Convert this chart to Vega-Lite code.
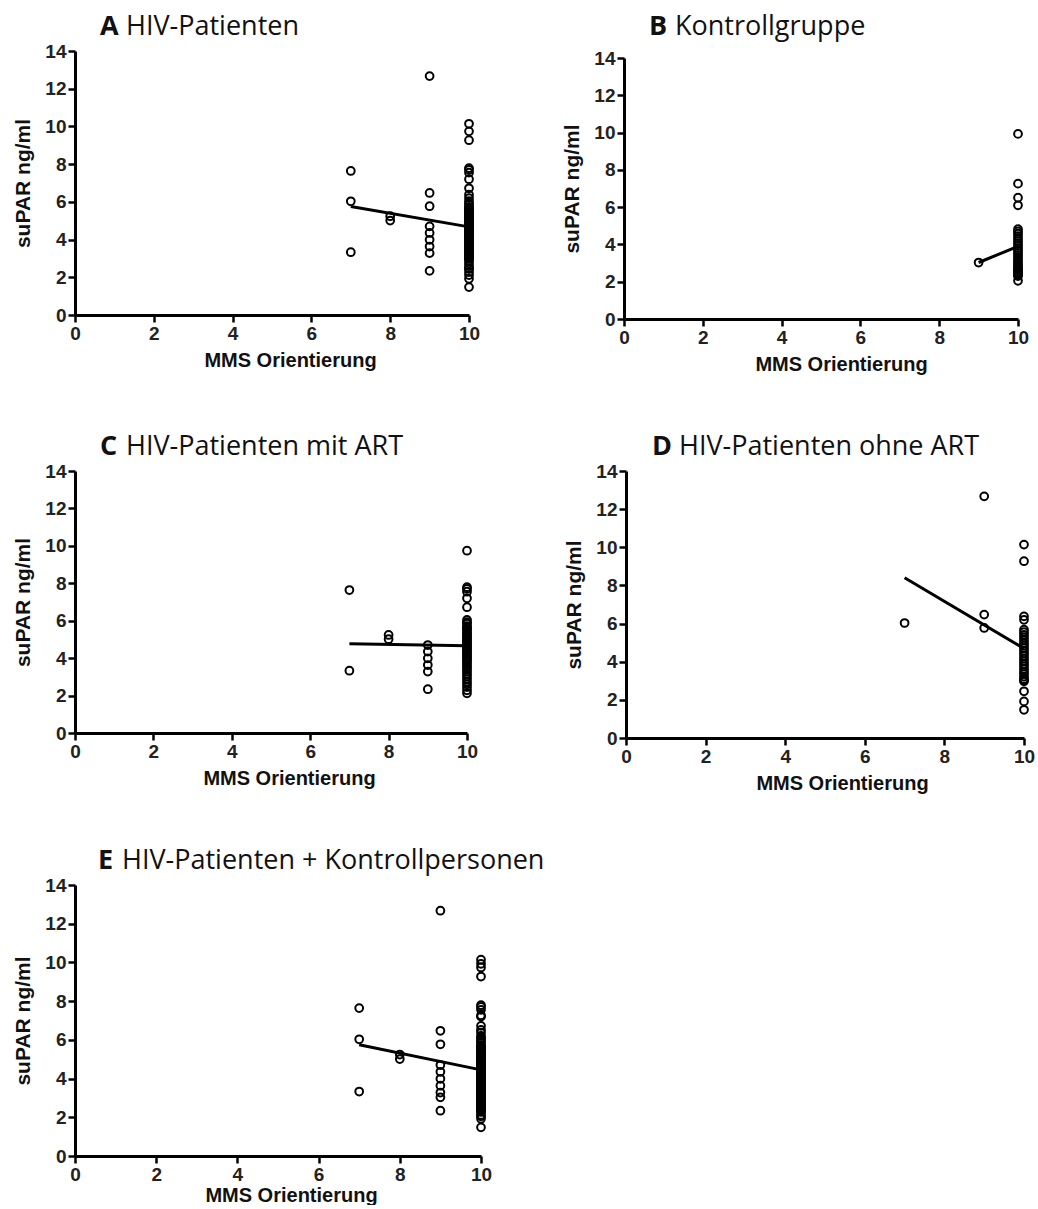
{
  "$schema": "https://vega.github.io/schema/vega-lite/v6.json",
  "padding": {"left": 12, "top": 13, "right": 5, "bottom": 0},
  "background": "#ffffff",
  "config": {
    "view": {"stroke": null},
    "font": "Liberation Sans",
    "axis": {
      "grid": false,
      "domainColor": "#000000",
      "domainWidth": 3,
      "tickColor": "#000000",
      "tickWidth": 2.5,
      "tickSize": 7,
      "labelFont": "Liberation Sans",
      "labelFontWeight": "bold",
      "labelFontSize": 19,
      "labelColor": "#222222",
      "labelPadding": 2,
      "labelOverlap": false,
      "titleFont": "Liberation Sans",
      "titleFontWeight": "bold",
      "titleColor": "#111111"
    },
    "axisX": {"titlePadding": 7, "titleFontSize": 20, "labelFlush": false},
    "axisY": {"titlePadding": 11, "titleFontSize": 21},
    "title": {
      "font": "Open Sans",
      "fontSize": 27,
      "fontWeight": "normal",
      "color": "#111111",
      "anchor": "start",
      "frame": "group"
    }
  },
  "datasets": {
    "supar": [
      {"mms": 7, "supar": 7.64, "gruppe": "HIV", "art": "mit"},
      {"mms": 7, "supar": 3.33, "gruppe": "HIV", "art": "mit"},
      {"mms": 8, "supar": 5.24, "gruppe": "HIV", "art": "mit"},
      {"mms": 8, "supar": 5.01, "gruppe": "HIV", "art": "mit"},
      {"mms": 9, "supar": 4.70, "gruppe": "HIV", "art": "mit"},
      {"mms": 9, "supar": 4.35, "gruppe": "HIV", "art": "mit"},
      {"mms": 9, "supar": 3.99, "gruppe": "HIV", "art": "mit"},
      {"mms": 9, "supar": 3.63, "gruppe": "HIV", "art": "mit"},
      {"mms": 9, "supar": 3.28, "gruppe": "HIV", "art": "mit"},
      {"mms": 9, "supar": 2.34, "gruppe": "HIV", "art": "mit"},
      {"mms": 10, "supar": 9.74, "gruppe": "HIV", "art": "mit"},
      {"mms": 10, "supar": 7.79, "gruppe": "HIV", "art": "mit"},
      {"mms": 10, "supar": 7.70, "gruppe": "HIV", "art": "mit"},
      {"mms": 10, "supar": 7.55, "gruppe": "HIV", "art": "mit"},
      {"mms": 10, "supar": 7.20, "gruppe": "HIV", "art": "mit"},
      {"mms": 10, "supar": 6.72, "gruppe": "HIV", "art": "mit"},
      {"mms": 10, "supar": 6.04, "gruppe": "HIV", "art": "mit"},
      {"mms": 10, "supar": 5.92, "gruppe": "HIV", "art": "mit"},
      {"mms": 10, "supar": 5.85, "gruppe": "HIV", "art": "mit"},
      {"mms": 10, "supar": 5.71, "gruppe": "HIV", "art": "mit"},
      {"mms": 10, "supar": 5.63, "gruppe": "HIV", "art": "mit"},
      {"mms": 10, "supar": 5.55, "gruppe": "HIV", "art": "mit"},
      {"mms": 10, "supar": 5.48, "gruppe": "HIV", "art": "mit"},
      {"mms": 10, "supar": 5.36, "gruppe": "HIV", "art": "mit"},
      {"mms": 10, "supar": 5.29, "gruppe": "HIV", "art": "mit"},
      {"mms": 10, "supar": 5.18, "gruppe": "HIV", "art": "mit"},
      {"mms": 10, "supar": 5.12, "gruppe": "HIV", "art": "mit"},
      {"mms": 10, "supar": 5.03, "gruppe": "HIV", "art": "mit"},
      {"mms": 10, "supar": 4.95, "gruppe": "HIV", "art": "mit"},
      {"mms": 10, "supar": 4.88, "gruppe": "HIV", "art": "mit"},
      {"mms": 10, "supar": 4.79, "gruppe": "HIV", "art": "mit"},
      {"mms": 10, "supar": 4.71, "gruppe": "HIV", "art": "mit"},
      {"mms": 10, "supar": 4.62, "gruppe": "HIV", "art": "mit"},
      {"mms": 10, "supar": 4.55, "gruppe": "HIV", "art": "mit"},
      {"mms": 10, "supar": 4.47, "gruppe": "HIV", "art": "mit"},
      {"mms": 10, "supar": 4.38, "gruppe": "HIV", "art": "mit"},
      {"mms": 10, "supar": 4.30, "gruppe": "HIV", "art": "mit"},
      {"mms": 10, "supar": 4.21, "gruppe": "HIV", "art": "mit"},
      {"mms": 10, "supar": 4.12, "gruppe": "HIV", "art": "mit"},
      {"mms": 10, "supar": 4.03, "gruppe": "HIV", "art": "mit"},
      {"mms": 10, "supar": 3.94, "gruppe": "HIV", "art": "mit"},
      {"mms": 10, "supar": 3.85, "gruppe": "HIV", "art": "mit"},
      {"mms": 10, "supar": 3.74, "gruppe": "HIV", "art": "mit"},
      {"mms": 10, "supar": 3.62, "gruppe": "HIV", "art": "mit"},
      {"mms": 10, "supar": 3.51, "gruppe": "HIV", "art": "mit"},
      {"mms": 10, "supar": 3.40, "gruppe": "HIV", "art": "mit"},
      {"mms": 10, "supar": 3.28, "gruppe": "HIV", "art": "mit"},
      {"mms": 10, "supar": 3.15, "gruppe": "HIV", "art": "mit"},
      {"mms": 10, "supar": 3.02, "gruppe": "HIV", "art": "mit"},
      {"mms": 10, "supar": 2.88, "gruppe": "HIV", "art": "mit"},
      {"mms": 10, "supar": 2.74, "gruppe": "HIV", "art": "mit"},
      {"mms": 10, "supar": 2.60, "gruppe": "HIV", "art": "mit"},
      {"mms": 10, "supar": 2.45, "gruppe": "HIV", "art": "mit"},
      {"mms": 10, "supar": 2.28, "gruppe": "HIV", "art": "mit"},
      {"mms": 10, "supar": 2.12, "gruppe": "HIV", "art": "mit"},
      {"mms": 7, "supar": 6.03, "gruppe": "HIV", "art": "ohne"},
      {"mms": 9, "supar": 12.67, "gruppe": "HIV", "art": "ohne"},
      {"mms": 9, "supar": 6.47, "gruppe": "HIV", "art": "ohne"},
      {"mms": 9, "supar": 5.77, "gruppe": "HIV", "art": "ohne"},
      {"mms": 10, "supar": 10.14, "gruppe": "HIV", "art": "ohne"},
      {"mms": 10, "supar": 9.27, "gruppe": "HIV", "art": "ohne"},
      {"mms": 10, "supar": 6.38, "gruppe": "HIV", "art": "ohne"},
      {"mms": 10, "supar": 6.20, "gruppe": "HIV", "art": "ohne"},
      {"mms": 10, "supar": 5.68, "gruppe": "HIV", "art": "ohne"},
      {"mms": 10, "supar": 5.55, "gruppe": "HIV", "art": "ohne"},
      {"mms": 10, "supar": 5.41, "gruppe": "HIV", "art": "ohne"},
      {"mms": 10, "supar": 5.27, "gruppe": "HIV", "art": "ohne"},
      {"mms": 10, "supar": 5.12, "gruppe": "HIV", "art": "ohne"},
      {"mms": 10, "supar": 4.98, "gruppe": "HIV", "art": "ohne"},
      {"mms": 10, "supar": 4.85, "gruppe": "HIV", "art": "ohne"},
      {"mms": 10, "supar": 4.71, "gruppe": "HIV", "art": "ohne"},
      {"mms": 10, "supar": 4.58, "gruppe": "HIV", "art": "ohne"},
      {"mms": 10, "supar": 4.44, "gruppe": "HIV", "art": "ohne"},
      {"mms": 10, "supar": 4.30, "gruppe": "HIV", "art": "ohne"},
      {"mms": 10, "supar": 4.16, "gruppe": "HIV", "art": "ohne"},
      {"mms": 10, "supar": 4.02, "gruppe": "HIV", "art": "ohne"},
      {"mms": 10, "supar": 3.88, "gruppe": "HIV", "art": "ohne"},
      {"mms": 10, "supar": 3.75, "gruppe": "HIV", "art": "ohne"},
      {"mms": 10, "supar": 3.61, "gruppe": "HIV", "art": "ohne"},
      {"mms": 10, "supar": 3.48, "gruppe": "HIV", "art": "ohne"},
      {"mms": 10, "supar": 3.35, "gruppe": "HIV", "art": "ohne"},
      {"mms": 10, "supar": 3.22, "gruppe": "HIV", "art": "ohne"},
      {"mms": 10, "supar": 3.10, "gruppe": "HIV", "art": "ohne"},
      {"mms": 10, "supar": 3.03, "gruppe": "HIV", "art": "ohne"},
      {"mms": 10, "supar": 2.97, "gruppe": "HIV", "art": "ohne"},
      {"mms": 10, "supar": 2.45, "gruppe": "HIV", "art": "ohne"},
      {"mms": 10, "supar": 1.92, "gruppe": "HIV", "art": "ohne"},
      {"mms": 10, "supar": 1.48, "gruppe": "HIV", "art": "ohne"},
      {"mms": 9, "supar": 3.03, "gruppe": "Kontrolle", "art": "keine"},
      {"mms": 10, "supar": 9.93, "gruppe": "Kontrolle", "art": "keine"},
      {"mms": 10, "supar": 7.26, "gruppe": "Kontrolle", "art": "keine"},
      {"mms": 10, "supar": 6.51, "gruppe": "Kontrolle", "art": "keine"},
      {"mms": 10, "supar": 6.10, "gruppe": "Kontrolle", "art": "keine"},
      {"mms": 10, "supar": 4.82, "gruppe": "Kontrolle", "art": "keine"},
      {"mms": 10, "supar": 4.70, "gruppe": "Kontrolle", "art": "keine"},
      {"mms": 10, "supar": 4.58, "gruppe": "Kontrolle", "art": "keine"},
      {"mms": 10, "supar": 4.45, "gruppe": "Kontrolle", "art": "keine"},
      {"mms": 10, "supar": 4.31, "gruppe": "Kontrolle", "art": "keine"},
      {"mms": 10, "supar": 4.18, "gruppe": "Kontrolle", "art": "keine"},
      {"mms": 10, "supar": 4.05, "gruppe": "Kontrolle", "art": "keine"},
      {"mms": 10, "supar": 3.92, "gruppe": "Kontrolle", "art": "keine"},
      {"mms": 10, "supar": 3.80, "gruppe": "Kontrolle", "art": "keine"},
      {"mms": 10, "supar": 3.68, "gruppe": "Kontrolle", "art": "keine"},
      {"mms": 10, "supar": 3.55, "gruppe": "Kontrolle", "art": "keine"},
      {"mms": 10, "supar": 3.43, "gruppe": "Kontrolle", "art": "keine"},
      {"mms": 10, "supar": 3.31, "gruppe": "Kontrolle", "art": "keine"},
      {"mms": 10, "supar": 3.20, "gruppe": "Kontrolle", "art": "keine"},
      {"mms": 10, "supar": 3.09, "gruppe": "Kontrolle", "art": "keine"},
      {"mms": 10, "supar": 2.98, "gruppe": "Kontrolle", "art": "keine"},
      {"mms": 10, "supar": 2.88, "gruppe": "Kontrolle", "art": "keine"},
      {"mms": 10, "supar": 2.79, "gruppe": "Kontrolle", "art": "keine"},
      {"mms": 10, "supar": 2.70, "gruppe": "Kontrolle", "art": "keine"},
      {"mms": 10, "supar": 2.62, "gruppe": "Kontrolle", "art": "keine"},
      {"mms": 10, "supar": 2.55, "gruppe": "Kontrolle", "art": "keine"},
      {"mms": 10, "supar": 2.48, "gruppe": "Kontrolle", "art": "keine"},
      {"mms": 10, "supar": 2.42, "gruppe": "Kontrolle", "art": "keine"},
      {"mms": 10, "supar": 2.36, "gruppe": "Kontrolle", "art": "keine"},
      {"mms": 10, "supar": 2.30, "gruppe": "Kontrolle", "art": "keine"},
      {"mms": 10, "supar": 2.05, "gruppe": "Kontrolle", "art": "keine"}
    ]
  },
  "data": {"name": "supar"},
  "spacing": 54,
  "vconcat": [
    {
      "spacing": 59,
      "vconcat": [
        {
          "spacing": 81,
          "hconcat": [
            {
              "title": {"text": "A", "fontWeight": "bold", "offset": 0, "dx": 25, "dy": 28},
              "vconcat": [
                {
                  "title": {"text": "HIV-Patienten", "dx": 51, "offset": 1},
                  "width": 394,
                  "height": 264,
                  "transform": [{"filter": "datum.gruppe === 'HIV'"}],
                  "encoding": {
                    "x": {"field": "mms", "type": "quantitative", "title": "MMS Orientierung", "scale": {"domain": [0, 10], "nice": false}, "axis": {"values": [0, 2, 4, 6, 8, 10], "titleX": 215}},
                    "y": {"field": "supar", "type": "quantitative", "title": "suPAR ng/ml", "scale": {"domain": [0, 14], "nice": false}, "axis": {"values": [0, 2, 4, 6, 8, 10, 12, 14]}}
                  },
                  "layer": [
                    {"mark": {"type": "point", "shape": "circle", "filled": false, "color": "#000000", "strokeWidth": 2, "size": 60, "opacity": 1}},
                    {"transform": [{"regression": "supar", "on": "mms"}], "mark": {"type": "line", "color": "#000000", "strokeWidth": 3}}
                  ]
                }
              ]
            },
            {
              "title": {"text": "B", "fontWeight": "bold", "offset": 0, "dx": 25, "dy": 28},
              "vconcat": [
                {
                  "title": {"text": "Kontrollgruppe", "dx": 51, "offset": 8},
                  "width": 394,
                  "height": 268,
                  "transform": [{"filter": "datum.gruppe === 'Kontrolle'"}],
                  "encoding": {
                    "x": {"field": "mms", "type": "quantitative", "title": "MMS Orientierung", "scale": {"domain": [0, 10], "nice": false}, "axis": {"values": [0, 2, 4, 6, 8, 10], "titleX": 217}},
                    "y": {"field": "supar", "type": "quantitative", "title": "suPAR ng/ml", "scale": {"domain": [0, 14], "nice": false, "range": [268, 7]}, "axis": {"values": [0, 2, 4, 6, 8, 10, 12, 14]}}
                  },
                  "layer": [
                    {"mark": {"type": "point", "shape": "circle", "filled": false, "color": "#000000", "strokeWidth": 2, "size": 60, "opacity": 1}},
                    {"transform": [{"regression": "supar", "on": "mms"}], "mark": {"type": "line", "color": "#000000", "strokeWidth": 3}}
                  ]
                }
              ]
            }
          ]
        },
        {
          "spacing": 85,
          "hconcat": [
            {
              "title": {"text": "C", "fontWeight": "bold", "offset": 0, "dx": 25, "dy": 28},
              "vconcat": [
                {
                  "title": {"text": "HIV-Patienten mit ART", "dx": 51, "offset": 1},
                  "width": 392,
                  "height": 262,
                  "transform": [{"filter": "datum.gruppe === 'HIV' && datum.art === 'mit'"}],
                  "encoding": {
                    "x": {"field": "mms", "type": "quantitative", "title": "MMS Orientierung", "scale": {"domain": [0, 10], "nice": false}, "axis": {"values": [0, 2, 4, 6, 8, 10], "titleX": 214}},
                    "y": {"field": "supar", "type": "quantitative", "title": "suPAR ng/ml", "scale": {"domain": [0, 14], "nice": false}, "axis": {"values": [0, 2, 4, 6, 8, 10, 12, 14]}}
                  },
                  "layer": [
                    {"mark": {"type": "point", "shape": "circle", "filled": false, "color": "#000000", "strokeWidth": 2, "size": 60, "opacity": 1}},
                    {"transform": [{"regression": "supar", "on": "mms"}], "mark": {"type": "line", "color": "#000000", "strokeWidth": 3}}
                  ]
                }
              ]
            },
            {
              "title": {"text": "D", "fontWeight": "bold", "offset": 0, "dx": 26, "dy": 28},
              "vconcat": [
                {
                  "title": {"text": "HIV-Patienten ohne ART", "dx": 53, "offset": 1},
                  "width": 398,
                  "height": 267,
                  "transform": [{"filter": "datum.gruppe === 'HIV' && datum.art === 'ohne'"}],
                  "encoding": {
                    "x": {"field": "mms", "type": "quantitative", "title": "MMS Orientierung", "scale": {"domain": [0, 10], "nice": false}, "axis": {"values": [0, 2, 4, 6, 8, 10], "titleX": 216}},
                    "y": {"field": "supar", "type": "quantitative", "title": "suPAR ng/ml", "scale": {"domain": [0, 14], "nice": false}, "axis": {"values": [0, 2, 4, 6, 8, 10, 12, 14]}}
                  },
                  "layer": [
                    {"mark": {"type": "point", "shape": "circle", "filled": false, "color": "#000000", "strokeWidth": 2, "size": 60, "opacity": 1}},
                    {"transform": [{"regression": "supar", "on": "mms"}], "mark": {"type": "line", "color": "#000000", "strokeWidth": 3}}
                  ]
                }
              ]
            }
          ]
        }
      ]
    },
    {
      "title": {"text": "E", "fontWeight": "bold", "offset": 0, "dx": 23, "dy": 28},
      "vconcat": [
        {
          "title": {"text": "HIV-Patienten + Kontrollpersonen", "dx": 47, "offset": 1},
          "width": 406,
          "height": 271,
          "encoding": {
            "x": {"field": "mms", "type": "quantitative", "title": "MMS Orientierung", "scale": {"domain": [0, 10], "nice": false}, "axis": {"values": [0, 2, 4, 6, 8, 10], "titleX": 216, "titlePadding": 1}},
            "y": {"field": "supar", "type": "quantitative", "title": "suPAR ng/ml", "scale": {"domain": [0, 14], "nice": false}, "axis": {"values": [0, 2, 4, 6, 8, 10, 12, 14]}}
          },
          "layer": [
            {"mark": {"type": "point", "shape": "circle", "filled": false, "color": "#000000", "strokeWidth": 2, "size": 60, "opacity": 1}},
            {"transform": [{"regression": "supar", "on": "mms"}], "mark": {"type": "line", "color": "#000000", "strokeWidth": 3}}
          ]
        }
      ]
    }
  ]
}
